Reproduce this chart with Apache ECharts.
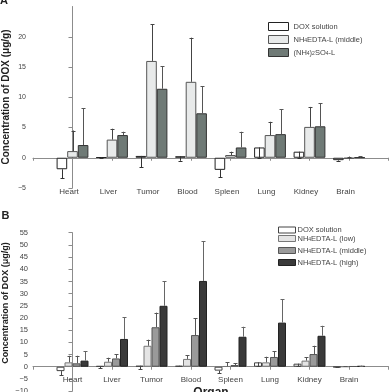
<!DOCTYPE html>
<html>
<head>
<meta charset="utf-8">
<script src="https://cdn.jsdelivr.net/npm/echarts@6/dist/echarts.min.js"></script>
<style>html,body{margin:0;padding:0;background:#fff;}#c{width:390px;height:392px;}</style>
</head>
<body>
<div id="c"></div>
<script>
// ---------- data ----------
const categories = ['Heart', 'Liver', 'Tumor', 'Blood', 'Spleen', 'Lung', 'Kidney', 'Brain'];

// Panel A
const doxA        = [-1.9, 0.08, 0.3, 0.25, -2.0, 1.7, 1.0, -0.4];
const doxErrA     = [-1.5, -0.1, -1.9, -0.75, -1.2, -1.7, -1.0, -0.1];
const edtaMidA    = [1.1, 3.0, 16.0, 12.55, 0.45, 3.75, 5.1, -0.15];
const edtaMidErrA = [3.4, 1.8, 6.1, 7.3, 0.55, 2.2, 3.3, 0.35];
const sulfateA    = [2.1, 3.75, 11.4, 7.35, 1.7, 3.9, 5.2, 0.05];
const sulfateErrA = [6.1, 0.55, 3.75, 4.5, 2.6, 4.1, 3.8, 0.2];

// Panel B
const doxB         = [-1.8, 0.3, 0.4, 0.4, -1.6, 1.8, 1.25, -0.2];
const doxErrB      = [-1.6, -0.9, -1.5, -0.3, -1.1, -1.5, -1.0, -0.1];
const edtaLowB     = [1.8, 2.05, 8.6, 3.2, 0.2, 1.8, 2.5, 0.05];
const edtaLowErrB  = [2.7, 1.65, 2.5, 1.5, 1.6, 2.3, 1.4, 0.1];
const edtaMidB     = [1.4, 3.4, 16.2, 13.0, 0.7, 4.0, 5.2, 0.2];
const edtaMidErrB  = [3.1, 1.7, 6.0, 6.9, 0.7, 2.4, 3.4, 0.1];
const edtaHighB    = [2.5, 11.4, 25.0, 35.2, 12.3, 18.1, 12.7, 0.3];
const edtaHighErrB = [3.9, 8.9, 10.0, 16.3, 4.1, 9.6, 4.1, 0.15];

const yTicksA = { min: -5, max: 25, interval: 5 };
const yTicksB = { min: -10, max: 55, interval: 5 };

const legendLabels = {
  'A-dox': '{n|DOX solution}',
  'A-mid': '{n|NH}{s|4}{n|EDTA-L (middle)}',
  'A-sul': '{n|(NH}{s|4}{n|)}{s|2}{n|SO}{s|4}{n|-L}',
  'B-dox': '{n|DOX solution}',
  'B-low': '{n|NH}{s|4}{n|EDTA-L (low)}',
  'B-mid': '{n|NH}{s|4}{n|EDTA-L (middle)}',
  'B-high': '{n|NH}{s|4}{n|EDTA-L (high)}'
};

// ---------- helpers ----------
const FONT = "'Liberation Sans', Arial, sans-serif";
const pairs = arr => arr.map((v, i) => [i, v]);
const errPairs = (vals, errs) => vals.map((v, i) => [i, v, v + errs[i]]);

function barSeries(name, vals, gridIdx, fill, border, barW) {
  return {
    type: 'bar', name: name, data: pairs(vals),
    xAxisIndex: gridIdx === 0 ? 0 : 2, yAxisIndex: gridIdx,
    barWidth: barW, barGap: '0%',
    itemStyle: { color: fill, borderColor: border, borderWidth: 1 },
    emphasis: { disabled: true }, z: 2
  };
}
function errSeries(vals, errs, gridIdx, offset, color) {
  return {
    type: 'custom', data: errPairs(vals, errs),
    xAxisIndex: gridIdx === 0 ? 0 : 2, yAxisIndex: gridIdx,
    encode: { x: 0, y: [1, 2] }, z: 5, silent: true,
    renderItem: function (params, api) {
      const x = api.value(0);
      const p0 = api.coord([x, api.value(1)]);
      const p1 = api.coord([x, api.value(2)]);
      const cx = Math.round(p0[0] + offset) + 0.5;
      const st = { stroke: color, lineWidth: 1 };
      return {
        type: 'group', children: [
          { type: 'line', shape: { x1: cx, y1: p0[1], x2: cx, y2: p1[1] }, style: st },
          { type: 'line', shape: { x1: cx - 2, y1: Math.round(p1[1]) + 0.5, x2: cx + 2, y2: Math.round(p1[1]) + 0.5 }, style: st }
        ]
      };
    }
  };
}

const axisGrey = '#8c8c8c';
const textGrey = '#444';
const richStyle = {
  n: { fontSize: 7.5, color: textGrey, fontFamily: FONT, lineHeight: 8 },
  s: { fontSize: 5, color: textGrey, fontFamily: FONT, lineHeight: 8, verticalAlign: 'bottom' }
};

const bwA = 10.6, bwB = 8;
const legendItemStyle = { borderWidth: 1 };

function labelAxis(gridIndex, offset, padding) {
  return {
    type: 'value', gridIndex: gridIndex, min: -1, max: 8, interval: 1, position: 'bottom', offset: offset,
    axisLine: { show: false, onZero: false }, axisTick: { show: false }, splitLine: { show: false },
    axisLabel: {
      margin: 0, fontSize: 8, color: textGrey, fontFamily: FONT, padding: padding,
      formatter: v => categories[v] || ''
    }
  };
}
function zeroAxis(gridIndex) {
  return {
    type: 'value', gridIndex: gridIndex, min: -1, max: 8, interval: 1, position: 'top',
    axisLine: { show: true, onZero: true, lineStyle: { color: axisGrey, width: 1 } },
    axisTick: { show: true, inside: true, length: 3, lineStyle: { color: axisGrey } },
    axisLabel: { show: false }, splitLine: { show: false }
  };
}

const option = {
  animation: false,
  backgroundColor: '#fff',
  grid: [
    { left: 33, right: 1.5, top: 6.5, height: 181.5, containLabel: false, outerBoundsMode: 'none' },
    { left: 33, right: 1.5, top: 232.7, height: 158.4, containLabel: false, outerBoundsMode: 'none' }
  ],
  xAxis: [
    labelAxis(0, 0, [0, 7, 0, 0]),
    zeroAxis(0),
    labelAxis(1, -15.6, [0, 0, 0, 0]),
    zeroAxis(1)
  ],
  yAxis: [
    {
      type: 'value', gridIndex: 0, min: yTicksA.min, max: yTicksA.max, interval: yTicksA.interval,
      axisLine: { show: true, lineStyle: { color: axisGrey } },
      axisTick: { show: true, length: 4, lineStyle: { color: axisGrey } },
      splitLine: { show: false },
      axisLabel: { fontSize: 7, color: textGrey, margin: 7, fontFamily: FONT, showMaxLabel: false,
        formatter: v => (v < 0 ? '\u2212' + Math.abs(v) : String(v)) }
    },
    {
      type: 'value', gridIndex: 1, min: yTicksB.min, max: yTicksB.max, interval: yTicksB.interval,
      axisLine: { show: true, lineStyle: { color: axisGrey } },
      axisTick: { show: true, length: 4, lineStyle: { color: axisGrey } },
      splitLine: { show: false },
      axisLabel: { fontSize: 7.5, color: textGrey, margin: 5, fontFamily: FONT,
        formatter: v => (v < 0 ? '\u2212' + Math.abs(v) : String(v)) }
    }
  ],
  legend: [
    {
      orient: 'vertical', left: 263, top: 17, itemWidth: 20, itemHeight: 8, itemGap: 4, icon: 'rect',
      itemStyle: legendItemStyle,
      data: ['A-dox', 'A-mid', 'A-sul'], selectedMode: false,
      formatter: n => legendLabels[n], textStyle: { rich: richStyle }
    },
    {
      orient: 'vertical', left: 273, top: 221, itemWidth: 17, itemHeight: 6, itemGap: 0.5, icon: 'rect',
      itemStyle: legendItemStyle,
      data: ['B-dox', 'B-low'], selectedMode: false,
      formatter: n => legendLabels[n], textStyle: { rich: richStyle, padding: [0, 0, 0, -3] }
    },
    {
      orient: 'vertical', left: 273, top: 241.5, itemWidth: 17, itemHeight: 6, itemGap: 4, icon: 'rect',
      itemStyle: legendItemStyle,
      data: ['B-mid', 'B-high'], selectedMode: false,
      formatter: n => legendLabels[n], textStyle: { rich: richStyle, padding: [0, 0, 0, -3] }
    }
  ],
  graphic: [
    { type: 'text', left: 0, top: -5, style: { text: 'A', font: "bold 11px " + FONT, fill: '#222' } },
    { type: 'text', left: 1.5, top: 210, style: { text: 'B', font: "bold 11px " + FONT, fill: '#222' } },
    { type: 'text', x: 6, y: 97, rotation: Math.PI / 2,
      style: { text: 'Concentration of DOX (\u03bcg/g)', font: "bold 10px " + FONT, fill: '#222', align: 'center', verticalAlign: 'middle' } },
    { type: 'text', x: 6, y: 303, rotation: Math.PI / 2,
      style: { text: 'Concentration of DOX (\u03bcg/g)', font: "bold 9px " + FONT, fill: '#222', align: 'center', verticalAlign: 'middle' } },
    { type: 'text', x: 211, y: 386.5, z: 100,
      style: { text: 'Organ', font: "bold 12px " + FONT, fill: '#222', align: 'center', verticalAlign: 'top' } }
  ],
  series: [
    barSeries('A-dox', doxA, 0, '#ffffff', '#222', bwA),
    barSeries('A-mid', edtaMidA, 0, '#e8eaea', '#555', bwA),
    barSeries('A-sul', sulfateA, 0, '#6f7a76', '#333', bwA),
    errSeries(doxA, doxErrA, 0, -bwA, '#333'),
    errSeries(edtaMidA, edtaMidErrA, 0, 0, '#444'),
    errSeries(sulfateA, sulfateErrA, 0, bwA, '#555'),

    barSeries('B-dox', doxB, 1, '#ffffff', '#444', bwB),
    barSeries('B-low', edtaLowB, 1, '#e4e4e4', '#777', bwB),
    barSeries('B-mid', edtaMidB, 1, '#9a9a9a', '#555', bwB),
    barSeries('B-high', edtaHighB, 1, '#3a3a3a', '#222', bwB),
    errSeries(doxB, doxErrB, 1, -1.5 * bwB, '#444'),
    errSeries(edtaLowB, edtaLowErrB, 1, -0.5 * bwB, '#555'),
    errSeries(edtaMidB, edtaMidErrB, 1, 0.5 * bwB, '#555'),
    errSeries(edtaHighB, edtaHighErrB, 1, 1.5 * bwB, '#666')
  ]
};

const chart = echarts.init(document.getElementById('c'), null, { renderer: 'canvas' });
chart.setOption(option);
</script>
</body>
</html>
